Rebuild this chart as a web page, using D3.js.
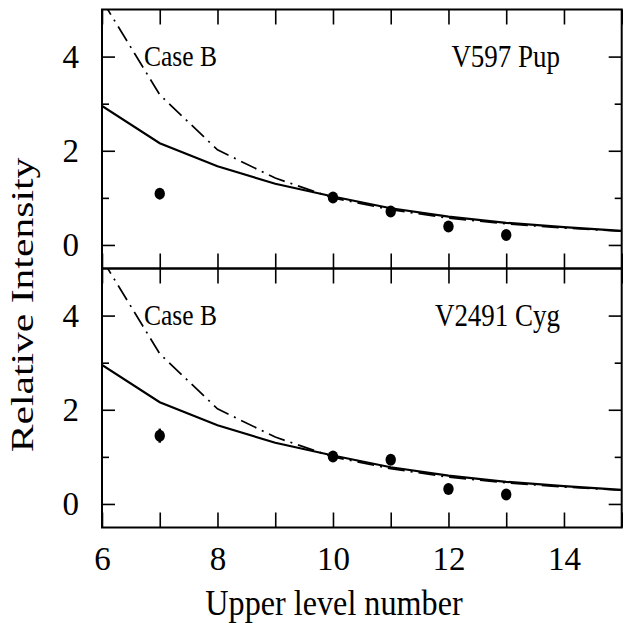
<!DOCTYPE html>
<html>
<head>
<meta charset="utf-8">
<script src="https://cdn.jsdelivr.net/npm/d3@7"></script>
<style>
  body { margin: 0; background: #fff; }
  text { font-family: "Liberation Serif", "Times New Roman", serif; fill: #000; }
</style>
</head>
<body>
<svg width="627" height="623"></svg>
<script>
// upper level number n
let levels = [6, 7, 8, 9, 10, 11, 12, 13, 14, 15];
// model (solid) and Case B (dash-dot) curves, same in both panels
let modelValues = [2.95, 2.16, 1.67, 1.30, 1.03, 0.78, 0.60, 0.47, 0.38, 0.30];
let caseBValues = [5.2, 3.19, 2.02, 1.42, 1.0, 0.75, 0.57, 0.45, 0.36, 0.29];

// observed points
let obsLevels = [7, 10, 11, 12, 13];
let pupValues = [1.09, 1.01, 0.71, 0.39, 0.21];
let cygValues = [1.45, 1.01, 0.94, 0.32, 0.20];
let cygErrors = [0.15, 0, 0, 0, 0];

let xTicks = [6, 7, 8, 9, 10, 11, 12, 13, 14, 15];
let xLabels = [6, 8, 10, 12, 14];
let yMajor = [0, 2, 4];
let yMinor = [1, 3];

let svg = d3.select('svg');

let left = 102, right = 621.7;
let panels = [
    { top: 9.5, bottom: 268.5, name: 'V597 Pup', values: pupValues, errors: null, labels: false },
    { top: 268.5, bottom: 527.5, name: 'V2491 Cyg', values: cygValues, errors: cygErrors, labels: true }
];

let xScale = d3.scaleLinear().domain([6, 15]).range([left, right]);
let defs = svg.append('defs');

panels.forEach(function(p, pi) {
    let yScale = d3.scaleLinear().domain([-0.5, 5]).range([p.bottom, p.top]);
    let g = svg.append('g');

    let clipId = 'clip' + pi;
    defs.append('clipPath').attr('id', clipId)
        .append('rect').attr('x', left).attr('y', p.top).attr('width', right - left).attr('height', p.bottom - p.top);

    // x ticks, top and bottom, inward
    let bottomAxis = g.append('g')
        .attr('transform', 'translate(0,' + p.bottom + ')')
        .call(d3.axisBottom(xScale).tickValues(xTicks).tickSize(-15).tickPadding(19)
            .tickFormat(d => p.labels && xLabels.indexOf(d) >= 0 ? d : ''))
        .call(a => a.select('.domain').remove());
    g.append('g')
        .attr('transform', 'translate(0,' + p.top + ')')
        .call(d3.axisTop(xScale).tickValues(xTicks).tickSize(-15).tickFormat(''))
        .call(a => a.select('.domain').remove());

    // y ticks left and right
    g.append('g')
        .attr('transform', 'translate(' + left + ',0)')
        .call(d3.axisLeft(yScale).tickValues(yMajor).tickSize(-13).tickPadding(23).tickFormat(d3.format('d')))
        .call(a => a.select('.domain').remove());
    g.append('g')
        .attr('transform', 'translate(' + left + ',0)')
        .call(d3.axisLeft(yScale).tickValues(yMinor).tickSize(-7).tickFormat(''))
        .call(a => a.select('.domain').remove());
    g.append('g')
        .attr('transform', 'translate(' + right + ',0)')
        .call(d3.axisRight(yScale).tickValues(yMajor).tickSize(-13).tickFormat(''))
        .call(a => a.select('.domain').remove());
    g.append('g')
        .attr('transform', 'translate(' + right + ',0)')
        .call(d3.axisRight(yScale).tickValues(yMinor).tickSize(-7).tickFormat(''))
        .call(a => a.select('.domain').remove());

    g.selectAll('.tick line').attr('stroke', '#000').attr('stroke-width', 1.6);
    g.selectAll('.tick text')
        .style('font-family', '"Liberation Serif", serif')
        .style('font-size', '33px')
        .attr('fill', '#000');

    // curves
    let line = d3.line().x((d, i) => xScale(levels[i])).y(d => yScale(d));
    g.append('path').datum(caseBValues)
        .attr('d', line)
        .attr('clip-path', 'url(#' + clipId + ')')
        .attr('fill', 'none').attr('stroke', '#000').attr('stroke-width', 1.7)
        .attr('stroke-dasharray', '17,6,2,6');
    g.append('path').datum(modelValues)
        .attr('d', line)
        .attr('clip-path', 'url(#' + clipId + ')')
        .attr('fill', 'none').attr('stroke', '#000').attr('stroke-width', 2.2);

    // error bars
    if (p.errors) {
        g.selectAll('.err').data(p.values).enter().append('line')
            .attr('class', 'err')
            .attr('x1', (d, i) => xScale(obsLevels[i]))
            .attr('x2', (d, i) => xScale(obsLevels[i]))
            .attr('y1', (d, i) => yScale(d - p.errors[i]))
            .attr('y2', (d, i) => yScale(d + p.errors[i]))
            .attr('stroke', '#000').attr('stroke-width', 2.5);
    }

    // observed points
    g.selectAll('.pt').data(p.values).enter().append('ellipse')
        .attr('class', 'pt')
        .attr('cx', (d, i) => xScale(obsLevels[i]))
        .attr('cy', d => yScale(d))
        .attr('rx', 5.2).attr('ry', 6)
        .attr('fill', '#000');

    // frame
    g.append('rect')
        .attr('x', left).attr('y', p.top)
        .attr('width', right - left).attr('height', p.bottom - p.top)
        .attr('fill', 'none').attr('stroke', '#000').attr('stroke-width', 2);

    // labels
    g.append('text')
        .attr('transform', 'translate(144,' + (p.top + 56) + ') scale(0.85,1)')
        .attr('font-size', 30)
        .text('Case B');
    g.append('text')
        .attr('transform', 'translate(560,' + (p.top + 57) + ') scale(0.87,1)')
        .attr('text-anchor', 'end')
        .attr('font-size', 31)
        .text(p.name);
});

svg.append('text')
    .attr('transform', 'translate(334,615) scale(0.92,1)')
    .attr('text-anchor', 'middle')
    .attr('font-size', 35)
    .text('Upper level number');

svg.append('text')
    .attr('transform', 'translate(33,305) rotate(-90) scale(1.3,1)')
    .attr('text-anchor', 'middle')
    .attr('font-size', 32)
    .text('Relative Intensity');
</script>
</body>
</html>
